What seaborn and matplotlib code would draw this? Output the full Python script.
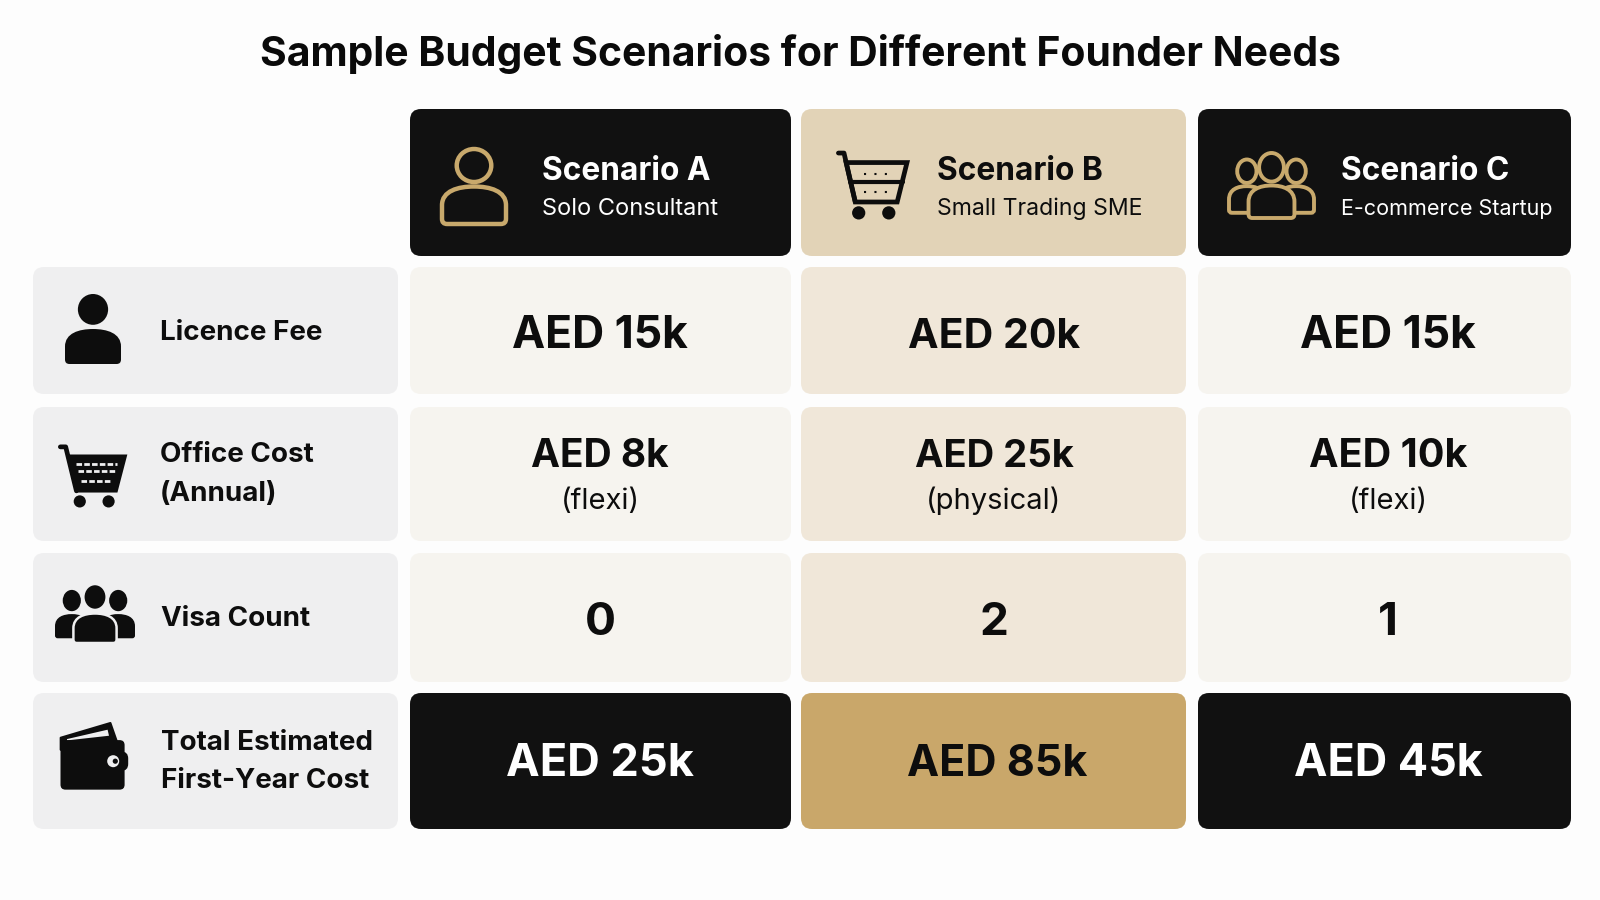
import seaborn as sns
import matplotlib.pyplot as plt
from matplotlib.patches import FancyBboxPatch, Circle, Ellipse, PathPatch, Polygon
from matplotlib.path import Path

# chart data
scenario_names = ['Scenario A', 'Scenario B', 'Scenario C']
scenario_types = ['Solo Consultant', 'Small Trading SME', 'E-commerce Startup']
row_labels = [['Licence Fee'], ['Office Cost', '(Annual)'], ['Visa Count'],
              ['Total Estimated', 'First-Year Cost']]
licence_fee = [15, 20, 15]
office_cost = [8, 25, 10]
office_type = ['flexi', 'physical', 'flexi']
visa_count = [0, 2, 1]
total_cost = [25, 85, 45]

# layout, in pixels
col_x = [(410, 791), (801, 1186), (1198, 1571)]
col_center = [600, 994, 1388]
label_x = (33, 398)
header_y = (109, 256)
row_y = [(267, 394), (407, 541), (553, 682), (693, 829)]

# per column font sizes, the digits run wider in the source font for B
licence_size = [32, 29.5, 32]
office_size = [28, 27.5, 28.5]
total_size = [32.5, 31, 32.3]
subtitle_size = [17, 16.6, 15.5]

BLACK = '#111111'
GOLD = '#c8a96c'
INK = '#0d0d0d'
LABEL_BG = '#efeff0'
body_bg = ['#f6f4ef', '#f0e7d9', '#f6f4ef']
header_bg = [BLACK, '#e2d3b7', BLACK]
total_bg = [BLACK, '#c9a76a', BLACK]

sns.set_theme(style='white')
plt.rcParams['font.family'] = ['Inter', 'DejaVu Sans']

fig, ax = plt.subplots(figsize=(16, 9), dpi=100)
fig.patch.set_facecolor('#fdfdfd')
ax.set_position([0, 0, 1, 1])
ax.set_xlim(0, 1600)
ax.set_ylim(900, 0)
ax.set_axis_off()
sns.despine(ax=ax, left=True, bottom=True)


def card(xs, ys, color, r=11):
    ax.add_patch(FancyBboxPatch((xs[0] + r, ys[0] + r), xs[1] - xs[0] - 2 * r, ys[1] - ys[0] - 2 * r,
                                boxstyle=f'round,pad={r},rounding_size={r}', fc=color, ec='none'))


def write(x, y, s, size, color=INK, weight='bold', ha='left'):
    ax.text(x, y, s, fontsize=size, color=color, fontweight=weight, ha=ha, va='baseline')


def body_path(x0, x1, y0, y1):
    w, h = x1 - x0, y1 - y0
    r = 0.08 * w
    cx = (x0 + x1) / 2
    verts = [(x0, y1 - r), (x0, y0 + 0.5 * h),
             (x0, y0 + 0.12 * h), (x0 + 0.25 * w, y0), (cx, y0),
             (x1 - 0.25 * w, y0), (x1, y0 + 0.12 * h), (x1, y0 + 0.5 * h),
             (x1, y1 - r), (x1, y1), (x1 - r, y1), (x0 + r, y1), (x0, y1), (x0, y1 - r), (x0, y1 - r)]
    codes = [Path.MOVETO, Path.LINETO,
             Path.CURVE4, Path.CURVE4, Path.CURVE4,
             Path.CURVE4, Path.CURVE4, Path.CURVE4,
             Path.LINETO, Path.CURVE3, Path.CURVE3, Path.LINETO, Path.CURVE3, Path.CURVE3, Path.CLOSEPOLY]
    return Path(verts, codes)


def person(cx, top, w, h, color, outline=False, bg=None, lw=3.0, halo=None):
    # head sits on top of the body, sizes relative to the icon box
    head_w, head_h = 0.54 * w, 0.44 * h
    if outline:
        kw = dict(fc=bg, ec=color, lw=lw)
    elif halo:
        kw = dict(fc=color, ec=halo, lw=1.8)
    else:
        kw = dict(fc=color, ec='none')
    ax.add_patch(PathPatch(body_path(cx - w / 2, cx + w / 2, top + 0.5 * h, top + h), **kw))
    ax.add_patch(Ellipse((cx, top + head_h / 2), head_w, head_h, **kw))


def group(x0, top, w, h, color, outline=False, bg=None, lw=2.8):
    side_w, side_h = 0.42 * w, 0.82 * h
    for cx in (x0 + 0.21 * w, x0 + 0.79 * w):
        person(cx, top + 0.1 * h, side_w, side_h, color, outline, bg, lw)
    person(x0 + 0.5 * w, top, 0.54 * w, h, color, outline, bg, lw, halo=None if outline else LABEL_BG)


def cart(x0, top, w, h, color, bg, filled=True):
    px = lambda u: x0 + u * w
    py = lambda v: top + v * h
    ax.plot([px(0.02), px(0.1), px(0.26)], [py(0.03), py(0.03), py(0.74)], color=color, lw=3.4,
            solid_capstyle='round', solid_joinstyle='round')
    basket = [(px(0.13), py(0.17)), (px(1.0), py(0.17)), (px(0.86), py(0.75)), (px(0.26), py(0.75))]
    if filled:
        ax.add_patch(Polygon(basket, closed=True, fc=color, ec=color, lw=1.5))
        for v, u0, u1 in [(0.3, 0.25, 0.87), (0.42, 0.28, 0.84), (0.58, 0.33, 0.78)]:
            ax.plot([px(u0), px(u1)], [py(v), py(v)], color=bg, lw=2, ls=(0, (2, 0.8)))
    else:
        ax.add_patch(Polygon(basket, closed=True, fc='none', ec=color, lw=3.4))
        ax.plot([px(0.19), px(0.94)], [py(0.46), py(0.46)], color=color, lw=3)
        for v in (0.34, 0.6):
            ax.plot([px(0.38), px(0.76)], [py(v), py(v)], color=color, lw=1.5, ls=(0, (1, 4)))
    for u in (0.31, 0.74):
        ax.add_patch(Circle((px(u), py(0.91)), 0.09 * h + 0.5, fc=color, ec='none'))


def wallet(x0, top, w, h, color, bg):
    px = lambda u: x0 + u * w
    py = lambda v: top + v * h
    ax.add_patch(Polygon([(px(0.01), py(0.22)), (px(0.72), py(0.0)), (px(0.82), py(0.3)), (px(0.01), py(0.4))],
                         closed=True, fc=color, ec=color, lw=1.5, joinstyle='round'))
    ax.add_patch(Polygon([(px(0.1), py(0.24)), (px(0.68), py(0.1)), (px(0.7), py(0.19)), (px(0.1), py(0.26))],
                         closed=True, fc=bg, ec='none'))
    ax.add_patch(FancyBboxPatch((px(0.05), py(0.3)), 0.83 * w, 0.65 * h,
                                boxstyle='round,pad=3,rounding_size=5', fc=color, ec='none'))
    ax.add_patch(FancyBboxPatch((px(0.72), py(0.44)), 0.24 * w, 0.26 * h,
                                boxstyle='round,pad=1,rounding_size=7', fc=color, ec='none'))
    ax.add_patch(Circle((px(0.76), py(0.57)), 6, fc=bg, ec='none'))
    ax.add_patch(Circle((px(0.79), py(0.57)), 2.6, fc=color, ec='none'))


# title
write(800, 66, 'Sample Budget Scenarios for Different Founder Needs', 29.4, '#0a0a0a', ha='center')

# header cards
for i, xs in enumerate(col_x):
    text_color = INK if i == 1 else 'white'
    card(xs, header_y, header_bg[i])
    left = [542, 937, 1341][i]
    write(left, 180, scenario_names[i], 22.8, text_color)
    write(left, 215, scenario_types[i], subtitle_size[i], text_color, 'normal')

person(474, 149, 64, 75, GOLD, True, BLACK, 3.2)
cart(837, 151, 70, 68, INK, header_bg[1], filled=False)
group(1229, 153, 85, 65, GOLD, True, BLACK)

# row label cards
for ys in row_y:
    card(label_x, ys, LABEL_BG)

label_base = [[340], [462, 501], [626], [750, 788]]
label_left = [160, 160, 161, 161]
for lines, bases, left in zip(row_labels, label_base, label_left):
    for line, base in zip(lines, bases):
        write(left, base, line, 20)

person(93, 294, 56, 70, INK)
cart(59, 445, 67, 62, INK, LABEL_BG)
group(55, 584, 80, 59, INK)
wallet(60, 723, 70, 67, INK, LABEL_BG)

# value cards
for i, xs in enumerate(col_x):
    cx = col_center[i]
    card(xs, row_y[0], body_bg[i])
    card(xs, row_y[1], body_bg[i])
    card(xs, row_y[2], body_bg[i])
    card(xs, row_y[3], total_bg[i])
    write(cx, 348, f'AED {licence_fee[i]}k', licence_size[i], ha='center')
    write(cx, 467, f'AED {office_cost[i]}k', office_size[i], ha='center')
    write(cx, 509, f'({office_type[i]})', 21, weight='normal', ha='center')
    write(cx, 635, str(visa_count[i]), 33, ha='center')
    total_color = INK if i == 1 else 'white'
    write(cx + (3 if i == 1 else 0), 776, f'AED {total_cost[i]}k', total_size[i], total_color, ha='center')

fig.savefig('out.png', dpi=100, facecolor=fig.get_facecolor())
plt.close(fig)
